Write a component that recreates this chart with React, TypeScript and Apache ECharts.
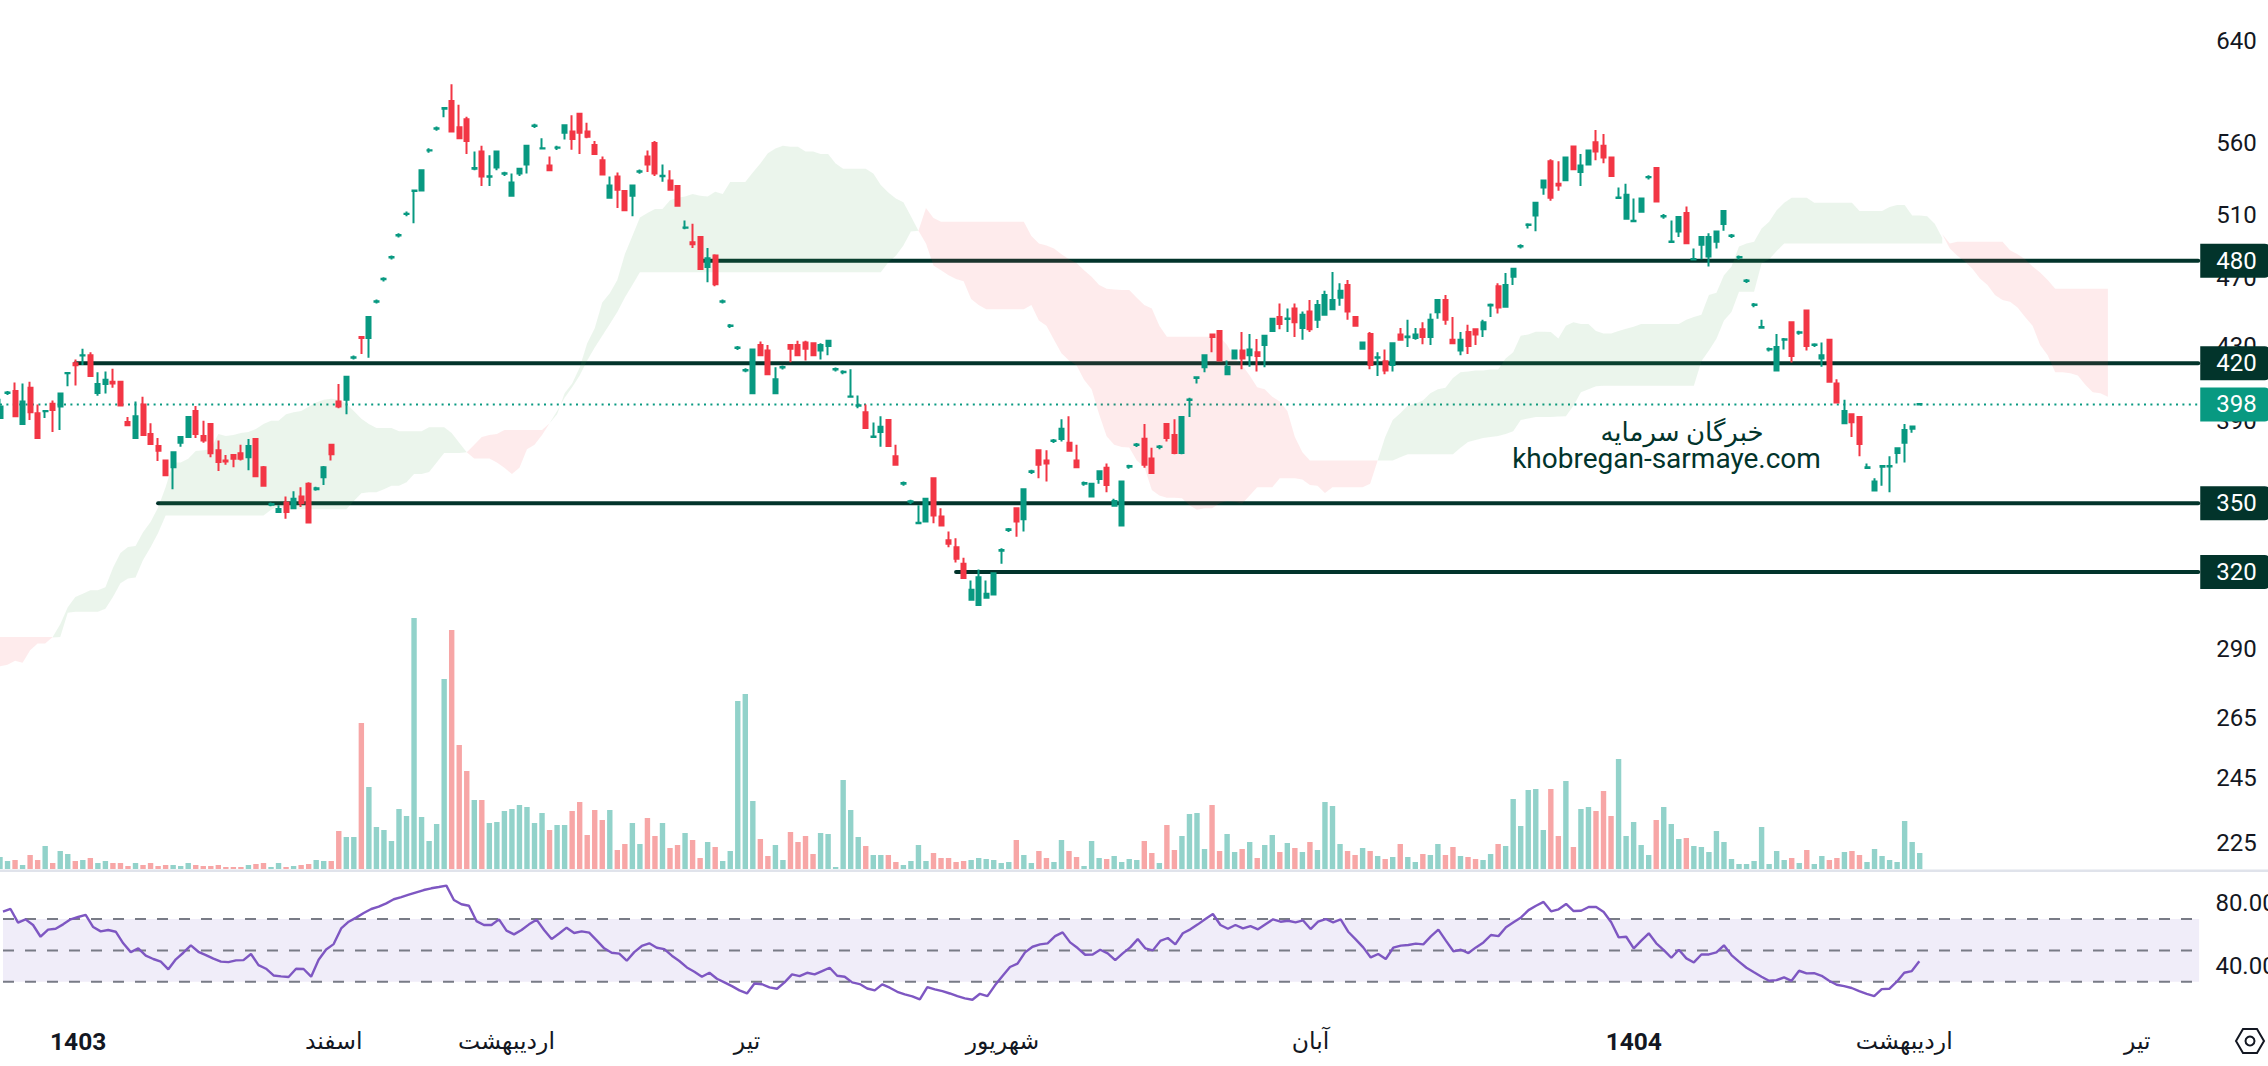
import React, { useEffect, useRef } from "react";
import * as echarts from "echarts";

const UP = "#089981";
const DOWN = "#f23645";
const DARK = "#02342b";
const TEXT = "#131722";

const slotCount = 302;
const monthLabels: [number, string][] = [
  [10, "1403"], [44, "اسفند"], [67, "اردیبهشت"], [99, "تیر"], [133, "شهریور"],
  [174, "آبان"], [217, "1404"], [253, "اردیبهشت"], [284, "تیر"],
];
const boldLabels = ["1403", "1404"];
const priceTicks = [640, 560, 510, 470, 430, 390, 290, 265, 245, 225];
const rsiTicks = [80, 40];
const levels: [number, number][] = [[480, 93], [420, 10], [350, 21], [320, 127]];
const currentPrice = 398;
const rsiGuides = [70, 50, 30];

// open, close, low, high
const candles: number[][] = [
  [391,397,391,401],[404,404.3,403,405],[405,392,392,409.5],[388,399.5,388,409],[406.7,394,390,410],
  [393.5,381,381,398],[394.5,394.6,391,395],[398.4,395.2,384,400],[397,403.7,385,403.7],[414.5,414.6,407.5,415],
  [420,418.8,408,422],[424.2,424.3,419,428],[424.3,413,413,426],[404,408.8,402.5,415],[408.8,411,403.7,415.5],
  [410,409,406.7,417],[410,397.5,397,410],[389,387.4,387.4,391.5],[381,392,381,399.5],[398,382.5,382.5,402],
  [383,378,378,388.4],[377,374.7,369.8,381],[370,363,363,370.5],[366.8,374,356.4,374],[378.6,381.5,376.7,381.5],
  [381.5,391.6,381.5,391.6],[394.6,383,381,397.2],[382,379.7,378.6,389.7],[388,373.5,371.6,388.5],[375,369.3,365,379.7],
  [370,369.5,368,372.7],[372.6,370.8,366.8,372.6],[373.5,370.8,370,377.6],[371.6,377,365.3,380.5],[380.5,362.5,362.5,380.5],
  [366.8,358,358,367.3],[349.3,349.6,348.6,350.3],[346,347.3,346,349],[350.3,346,343,353],[347.7,352,347.2,355.5],
  [353,350,348.3,357.3],[359,341.3,341.3,359.6],[356.4,356.8,355.7,357.6],[362,366.8,358.4,367.3],[377.6,373,370,377.6],
  [399.5,397,396,408.8],[400.5,412.7,393,412.7],[423,423.3,422,424.2],[434.6,434,425,434.6],[434,446,423,446],
  [455,455.3,454,456.3],[468.5,468.8,467.2,469.8],[482,482.3,480.7,483.3],[496,496.3,494.7,497.5],[510,510.3,508.6,511.7],
  [525.5,526,504,526],[526,540,526,540],[554,554.3,552.5,555.7],[570,570.3,568.5,571.7],[585,585.5,578.6,586],
  [591,568,568,604],[571,563,563,588],[577,561,551.5,579],[541,541.5,540,553.3],[553.3,535.6,529,557.5],
  [535.4,535.7,529,550.7],[542,553.3,540,553.3],[537.5,537.8,536,539],[522.4,531.5,521.8,537.7],[537.7,541,536,541],
  [544,557.5,537.7,557.5],[572,572.3,570.5,573.7],[555.5,555.7,555,563],[543.3,540,540,549.7],[556,556.3,554.5,557.5],
  [567,572.5,562,572.5],[568,562.4,554.6,580],[581.2,567,551.5,581.2],[568,564,563,574.4],[558,551.5,551.5,561],
  [547,537,537,549.7],[521,529.3,521,535.6],[535.6,526.4,514,538.4],[525.5,512.6,512.6,525.5],[522.4,529.3,508.5,529.3],
  [539,539.3,537.5,540.5],[549.7,544,538.8,554],[559.4,537.7,536,561],[535.8,536.2,532,544],[532.8,526.4,526.4,540],
  [529,515.6,515.6,529],[501,501.2,500,505.7],[491.7,490.3,488,503.6],[495,474.8,474.8,495],[476,481.5,466.7,488],
  [483.3,465.5,464.3,484],[455,455.3,454,456.3],[440.8,441.1,439.7,442],[428.4,428.7,427.3,429.5],[416,416.3,415,417.2],
  [403.8,427.5,403.8,427.5],[430,424.3,424.3,432],[427,414,414,430],[403.8,411.3,403.8,417.8],[417.6,417.9,416.5,418.7],
  [430,428,420.5,430],[430,424.3,424.3,432.5],[431.5,428,421.5,432.5],[431,424.3,424.3,431.5],[427,430,422,431],
  [429.5,432.5,424.3,432.5],[416.5,416.8,415.4,417.6],[415,415.3,414,416.1],[402,402.2,401.5,416.7],[397.4,397.6,396,402.7],
  [394,386,386,398],[381.5,381.7,381,388.8],[384,386.6,376.7,392],[390,377,377,390],[372,368,368,377.6],
  [359,359.3,358,360],[350.6,350.9,349.6,351.6],[341,341.2,340.5,349],[341.7,352,341.7,352],[361.5,344.4,341,361.5],
  [344,340,340,347.7],[333.5,332,330.5,337.3],[330.5,325.5,324,334.4],[323.4,317.5,317.5,326],[308.6,312.7,308.6,316.5],
  [306.5,317.8,306.5,321],[309.4,311,309.4,316.5],[310.7,319.5,310.7,319.5],[329,329.3,323.4,330],[338,338.3,337.1,338.9],
  [347.7,341.7,335,347.7],[342.7,356.4,337.3,356.4],[364.5,364.8,363.5,365.5],[375,368,361.5,375],[370,368.5,360,375],
  [379.5,379.8,378.5,380.5],[380.5,385.6,379.2,390.4],[378.6,374.7,374.7,392],[370,366.8,366.8,377.6],[359,359.3,358,360],
  [353,359,353,359],[361.2,364.8,359,364.8],[366.5,358.4,355,368.6],[348.8,351,348.8,352],[340,360,340,360],
  [367,367.3,366,368],[377.5,377.8,376.5,378.5],[380.6,368,366.5,388],[371,364,364,376.2],[376.5,376.8,375.5,377.5],
  [388,381,379.2,388],[382.5,373.6,373,390.4],[373.6,391.5,373,391.5],[400.3,400.6,391.5,401.5],[412,412.3,409,412.7],
  [417.8,424.3,415,424.3],[436,434.6,426,436],[438,421.5,421.5,438],[414,418,414,421.5],[422.5,427,422.5,427],
  [427,422.5,416.7,437.4],[424.3,427.5,418,436.2],[426,424,415.5,433.4],[430,435.3,417.8,435.3],[438,445,438,445],
  [446,442,439,454],[444.8,445.2,437.4,451],[451,443,434.6,454],[439.7,447.4,433,449.3],[449.3,439,437.4,456],
  [444.4,453,439.7,456],[447.4,459,447.4,461.6],[450.5,456,450.5,473],[457.3,461.6,452.6,466],[465,449.3,444.4,468],
  [446,441,441,446],[428,431.5,428,431.5],[436.2,419,416.7,437.4],[423,423.2,413,426],[421,416,414,427.5],
  [419,431,415.5,431],[436,433,433,439.7],[434.4,434.8,429,444.4],[434,436,433,439.7],[439,434.6,430.5,443],
  [434.6,444.4,430,448],[448.8,456,445,456],[456,444.4,441.6,459],[433,431,431,446],[427,433,424.3,437.4],
  [437.4,429.5,425,441.6],[439,436,430,439],[439,443,434.6,444.4],[452.8,453.2,446,454],[464.3,451.6,448,466],
  [452,465,452,472.4],[470,475,465,475],[489,489.3,487.7,490.3],[502.8,503.2,500.5,504],[509,517.6,498.8,517.6],
  [528,532.8,523,532.8],[546.3,521,519,547.7],[530.6,529.3,525.7,546.3],[533,549,533,549],[557,540.6,540.6,557],
  [538.8,543.3,529,551.5],[544,554,544,554],[560,553.3,547,569],[557.5,549,545,566],[549,536,536,549.7],
  [520.8,521.2,520.3,528],[507,523,507,530.6],[505.3,505.6,505,520.5],[511.5,520.5,511.5,520.5],[535,535.3,533.6,536.5],
  [541.6,518.5,518.5,542],[508.4,508.7,507,510],[491.8,492.2,491.5,505.7],[498.5,508,495,508],[510.7,491,491,515],
  [480.7,481,480.5,487.6],[490,495,480.8,495],[482.6,495,476.4,497.4],[492,498.6,487.6,498.6],[503.5,512,499,512],
  [495.7,496,494.4,497],[482,482.3,480.7,483.3],[467.5,467.8,466.3,468.7],[453,453.3,451.8,454.2],[439.8,440.2,439.5,444.4],
  [427.5,427.8,426.4,428.6],[416,429,415.5,436.2],[433,433.3,427.5,434],[443,424,420.4,443],[437,437.3,435.9,438.1],
  [449.8,429.5,427,449.8],[430,430.3,428.9,431.1],[422.5,424.3,418,431.5],[433,410,410,433.4],[409,399,399,411.3],
  [388.4,394.6,388.4,400.5],[393,388.9,381.5,393],[391.5,378,372,391.5],[366.4,366.7,366,368.6],[355.8,360,355.8,361.5],
  [367,367.3,358,367.5],[367.1,367.4,355,372],[373.6,376,368.6,376],[378.6,385,369,388],[385.6,386.7,383.6,386.7],
  [398,398.2,397.5,398.8],
];

const volumes = [
  12,8,9,4,14,9,23,6,18,15,8,9,11,6,8,6,6,3,6,4,6,3,4,4,3,6,4,3,3,4,2,2,2,4,5,6,2,6,2,3,4,5,9,8,8,
  38,32,32,146,82,42,39,28,60,53,251,52,28,45,190,239,124,98,69,69,46,47,58,60,64,62,46,56,39,44,44,58,67,34,59,49,59,19,25,46,25,51,33,46,21,24,36,29,11,27,22,8,18,168,175,68,30,
  13,24,9,37,27,33,15,36,35,2,89,59,32,23,14,14,14,7,4,8,24,8,16,11,11,7,8,9,11,10,9,6,7,29,14,6,18,11,7,29,18,12,3,28,11,10,13,7,10,9,28,16,6,44,19,33,55,56,20,64,18,35,17,20,27,11,24,34,17,26,21,17,27,19,67,63,25,18,14,21,18,13,10,12,25,12,7,15,14,25,14,22,13,12,10,9,15,25,
  23,70,43,79,80,39,80,33,88,22,60,62,58,78,53,110,33,47,24,14,49,62,45,30,31,23,22,17,38,27,10,5,5,8,42,5,18,9,11,6,19,5,13,9,11,17,18,14,7,20,13,9,7,48,27,16,
];

const rsi = [
  74.7,76.4,67.7,69.8,66.2,58.7,63.2,63.8,66.6,69.8,71.3,72.6,64.9,62.1,63,61.9,54.5,48.9,51.3,46.6,
  44.5,42.8,37.9,44.3,48.5,53.2,49.1,47,44.7,42.8,42.5,43.6,43.8,47.7,40.6,38.3,34,33.4,33,38.3,
  38.1,33.2,44,50.6,54,64,68.3,70.9,73.8,76.4,77.9,80,82.6,84,85.5,87,88.5,89.6,90.4,91.3,
  82.1,79.4,78.5,68.7,66.2,66.2,69.8,62.6,60.2,63,66.6,69.6,63,57.2,60.8,64.5,61.1,62.1,61.3,56.4,
  51.3,48.5,47.9,43.4,48.9,52.8,54.5,51.7,50.8,46.6,43.2,39.1,36.4,33.2,35.7,31.9,29.6,27.2,24.5,22.5,
  28.9,28.4,26.4,25.5,29.6,34.7,33.6,35.7,34.7,36.8,38.9,33.8,33.2,29.6,28.5,25.7,24.5,28.3,26.2,23.6,
  21.9,20.6,18.7,26.6,25.1,24,22.5,20.8,19.4,18.5,22.3,20.8,27.7,33.6,39.4,41.5,48.7,52.3,53.8,54.5,
  59.1,61.5,55.1,51.5,47.2,47.4,50.4,48.1,43.8,48.1,51.9,57.2,51.3,50,56,57.9,53.8,60.9,63.4,66.6,
  70,73.2,66.2,63.8,66.2,64,65.5,63.4,66.6,69.8,68.3,68.9,67.9,69.1,63.6,68.3,70,67.9,69.8,61.9,
  57,51.9,45.5,47.7,44.5,51.7,53,53.4,54.3,53.8,58.9,63.2,56.2,49.4,50.4,48.3,51.9,55.1,59.8,59.1,
  64.7,67.9,71,75.7,78.5,80.9,74.9,76.2,79.6,75.1,75.3,77.7,77.7,74.5,67.9,58.3,58.7,51.3,56.2,60.9,
  54.5,50.2,45.3,50.4,44.9,42.3,47.4,47.4,48.7,53.2,47,42.8,38.9,36,33.2,30.6,31,32.8,30.6,37,
  35.3,35.5,33.8,30.6,28.1,27.2,26,24,22.3,20.8,25.3,25.5,30,35.7,36.8,43,
];

// Ichimoku cloud edges: each piece starts at a bar index and lists upper and lower span values.
const redCloudAStart = 0;
const redCloudAUpper = [294,294,294,294,294,294,294,294];
const redCloudALower = [283,283.6,285,284.3,289,291.5,291.5,294];

const greenCloudAStart = 7;
const greenCloudAUpper = [294,298.9,305.6,309.7,311,312.5,312.5,313.7,321.6,328,330.6,331,337,341.5,348,357.3,369,369,370.8,374.6,375,375.5,383,382,382.5,383.5,384,385.5,388,389.7,389.7,393,394,394.6,396.8,399,400.5,401,400.5,398.4,394.6,390.7,388,386,386,386,384.4,384.4,384.4,384.4,386.4,386.4,386.4,383.5,378.6,374];
const greenCloudALower = [293.8,294,303.4,303.8,303.8,303.8,303.8,305,309.7,315.3,317.3,317.7,325,330.5,336.7,344.4,344.4,344.4,344.4,344.4,344.4,344.4,344.4,344.4,344.4,344.4,344.4,344.4,344.4,347,348.7,347.2,347.2,347.2,347.2,347.2,347.2,347.2,347.2,347.2,351,354.5,355,355,356.4,358,358,359.6,363.5,363.5,364.5,369,373.6,373.6,373.6,374];

const redCloudBStart = 62;
const redCloudBUpper = [374,377.6,381.5,382.5,383,385,385,385,385,385,385,388.4];
const redCloudBLower = [374,371,371,371,369,366.5,363.5,366.5,375.5,377.6,382.5,388.4];

const greenCloudBStart = 73;
const greenCloudBUpper = [388.4,393,403.8,409,417.7,431,439.6,454.5,460,468,484,495.7,507.7,510.7,513.4,513.4,519.3,521,521.8,523.5,522.4,521.8,525,523.5,531.7,531.7,531.7,538.4,544.7,552,555.5,557.5,556.8,556.8,553.3,553.3,551.5,551.5,544.7,541,541,541,541,537.7,529.7,524.5,520.5,518,508.5,499];
const greenCloudBLower = [388.4,394.6,401.5,407,413.3,421.5,428.7,435.3,442,449,457.5,465,472.8,472.8,472.8,472.8,472.8,472.8,472.8,472.8,472.8,472.8,472.8,472.8,472.8,472.8,472.8,472.8,472.8,472.8,472.8,472.8,472.8,472.8,472.8,472.8,472.8,472.8,472.8,472.8,472.8,472.8,472.8,472.8,472.8,479,483,489.5,498.6,499];

const redCloudCStart = 122;
const redCloudCUpper = [499,514,507.5,505,505,505,505,505,505,505,505,505,505,505,505,495.7,490.8,489.6,487.6,484,480.8,478.6,474,470,465,462.7,462.3,462,462,457.3,453,451,441,434.7,434.7,434.7,434.7,434.7,434.7,434.7,434.7,430,422.5,418.8,413.3,407,406,402,399.5,394.6,381.5,374,370,370,370,370,370,370,370,370,370,370];
const redCloudCLower = [499,490.8,477,474,471,468.6,467.3,456.6,453,450.6,450.6,450.6,450.6,450.6,450.6,453,444,441,433,425.4,421.5,418.8,411,406,393,381.8,377.6,376.6,376.3,370,367,356,353.5,352.5,352.5,352.2,349,347,347.7,347.7,350,351,350.6,349.8,353.5,357.3,357.3,357.3,361.5,361.5,361.5,361,358.4,358,354.6,357.3,357.3,357.3,357.3,357.3,359,370];

const greenCloudCStart = 183;
const greenCloudCUpper = [370,381.5,390,393.5,397.3,398.4,400,403.8,406,406.8,412,415,415.5,416,416,416.5,416.5,422.5,426,435.3,436,437.6,437.6,437.4,433.7,441,443,442,442,438,436.5,436.5,438,439.2,440.4,442,442,442,442,442,442,444.4,446,447.4,459,460.3,471,476.4,489,490.8,492,500.6,505,512.6,517.6,521,521,521,517.6,517.6,517.6,517.6,517.6,517.6,512,512,512,512,514.8,516,516,509,509,508.5,503.6,494.4];
const greenCloudCLower = [370,370,370,371.6,373,373,373,373,373,373,373,376.2,379,380,381,381.5,382,383,384.4,390,390.8,391.5,391.5,391.5,391.8,392,397.3,404.4,406,407.5,407.8,407.8,407.8,407.8,407.8,407.8,407.8,407.8,407.8,407.8,407.8,407.8,407.8,421,427,433.6,444,449,461,461,461,478.3,480.8,486,490.8,490.8,490.8,490.8,490.8,490.8,490.8,490.8,490.8,490.8,490.8,490.8,490.8,490.8,490.8,490.8,490.8,490.8,490.8,490.8,490.8,490.8];

const redCloudDStart = 258;
const redCloudDUpper = [496.8,490.8,492,492,492,492,492,492,492,486.6,484,480.8,476.4,472.7,468,462.7,462.7,462.7,462.7,462.7,462.7,462.7,462.7];
const redCloudDLower = [496.8,487.6,483,479.5,475,469,465,459,456,455,451.6,446,441,430,424.3,415,415,414.5,413.3,408.3,404.4,403.8,402];

const RED_FILL = "rgba(242,54,69,0.1)";
const GREEN_FILL = "rgba(76,160,80,0.11)";

function cloudSeries(start: number, upper: number[], lower: number[], color: string) {
  const points: number[][] = [];
  upper.forEach((v, k) => points.push([start + k, v]));
  for (let k = lower.length - 1; k >= 0; k--) points.push([start + k, lower[k]]);
  return {
    type: "custom",
    xAxisIndex: 0,
    yAxisIndex: 0,
    z: 3,
    silent: true,
    clip: true,
    encode: { x: 0, y: 1 },
    data: points,
    renderItem: (params: any, api: any) => {
      if (params.dataIndex !== 0) return null;
      return {
        type: "polygon",
        shape: { points: points.map((p) => api.coord(p)) },
        style: { fill: color, stroke: "none" },
      };
    },
  };
}

const FONT = 'Roboto, "DejaVu Sans", sans-serif';
const PANE_RIGHT = 2200;
const grids = [
  { left: 0, top: 0.5, width: 2266, height: 870 },
  { left: 0, top: 569, width: 2266, height: 300 },
  { left: 0, top: 872, width: 2266, height: 156.75 },
];

export default function App() {
  const ref = useRef<HTMLDivElement>(null);
  useEffect(() => {
    document.body.style.margin = "0";
    document.body.style.background = "#fff";
    const chart = echarts.init(ref.current!, undefined, { renderer: "svg" });
    const categories = Array.from({ length: slotCount }, () => "");
    monthLabels.forEach(([i, t]) => (categories[i] = t));
    const bareX = (gridIndex: number) => ({
      type: "category",
      gridIndex,
      data: categories,
      boundaryGap: false,
      axisLine: { show: false },
      axisTick: { show: false },
      axisLabel: { show: false },
      splitLine: { show: false },
    });
    const tagSeries = (value: number, bg: string) => ({
      type: "scatter",
      xAxisIndex: 0,
      yAxisIndex: 0,
      z: 20,
      silent: true,
      symbolSize: 0,
      itemStyle: { opacity: 1 },
      data: [[292, value]],
      label: {
        show: true,
        position: "right",
        distance: 2,
        formatter: String(value),
        color: "#fff",
        opacity: 1,
        fontFamily: FONT,
        fontSize: 24,
        backgroundColor: bg,
        padding: [5, 14, 5, 16],
        lineHeight: 24,
        borderRadius: [0, 6, 6, 0],
      },
    });
    chart.setOption({
      animation: false,
      backgroundColor: "#fff",
      grid: grids,
      xAxis: [
        bareX(0),
        bareX(1),
        {
          ...bareX(2),
          axisLabel: {
            show: true,
            interval: 0,
            margin: 0,
            hideOverlap: false,
            color: TEXT,
            fontFamily: FONT,
            fontSize: 23.5,
            formatter: (v: string) => (boldLabels.includes(v) ? `{b|${v}}` : v),
            rich: { b: { fontWeight: "bold", fontSize: 24.5, color: TEXT, fontFamily: FONT } },
          },
        },
        { type: "value", gridIndex: 2, min: 0, max: 2266, show: false, splitLine: { show: false } },
      ],
      yAxis: [
        { type: "log", gridIndex: 0, min: 216.9, max: 673.6, show: false, splitLine: { show: false } },
        { type: "value", gridIndex: 1, min: 0, max: 300, show: false, splitLine: { show: false } },
        { type: "value", gridIndex: 2, min: 0, max: 100, show: false, splitLine: { show: false } },
      ],
      series: [
        ...levels.map(([price, start]) => ({
          type: "line",
          xAxisIndex: 0,
          yAxisIndex: 0,
          z: 2,
          silent: true,
          symbol: "none",
          data: [[start, price], [292, price]],
          lineStyle: { color: DARK, width: 4, cap: "round" },
        })),
        {
          type: "line",
          xAxisIndex: 0,
          yAxisIndex: 0,
          z: 2,
          silent: true,
          symbol: "none",
          data: [[0, currentPrice], [292, currentPrice]],
          lineStyle: { color: UP, width: 2, type: [2, 4.4] },
        },
        cloudSeries(redCloudAStart, redCloudAUpper, redCloudALower, RED_FILL),
        cloudSeries(greenCloudAStart, greenCloudAUpper, greenCloudALower, GREEN_FILL),
        cloudSeries(redCloudBStart, redCloudBUpper, redCloudBLower, RED_FILL),
        cloudSeries(greenCloudBStart, greenCloudBUpper, greenCloudBLower, GREEN_FILL),
        cloudSeries(redCloudCStart, redCloudCUpper, redCloudCLower, RED_FILL),
        cloudSeries(greenCloudCStart, greenCloudCUpper, greenCloudCLower, GREEN_FILL),
        cloudSeries(redCloudDStart, redCloudDUpper, redCloudDLower, RED_FILL),
        {
          type: "bar",
          xAxisIndex: 1,
          yAxisIndex: 1,
          z: 1,
          silent: true,
          barWidth: 5.4,
          data: volumes.map((v, i) => ({
            value: v,
            itemStyle: { color: candles[i][1] >= candles[i][0] ? "#92d2ca" : "#f7a6a6" },
          })),
        },
        {
          type: "candlestick",
          xAxisIndex: 0,
          yAxisIndex: 0,
          z: 5,
          silent: true,
          barWidth: 4.5,
          data: candles,
          itemStyle: { color: UP, color0: DOWN, borderColor: UP, borderColor0: DOWN, borderWidth: 2 },
        },
        ...rsiGuides.map((g, k) => ({
          type: "line",
          xAxisIndex: 3,
          yAxisIndex: 2,
          z: 2,
          silent: true,
          symbol: "none",
          data: [[0, g], [PANE_RIGHT, g]],
          lineStyle: { color: "#787b86", width: 2, type: [11, 11] },
          ...(k === 0
            ? {
                markArea: {
                  silent: true,
                  itemStyle: { color: "#f0edf9" },
                  data: [[{ xAxis: 0, yAxis: 30 }, { xAxis: PANE_RIGHT, yAxis: 70 }]],
                },
              }
            : {}),
        })),
        {
          type: "line",
          xAxisIndex: 2,
          yAxisIndex: 2,
          z: 4,
          silent: true,
          symbol: "none",
          data: rsi.map((v, i) => [i, v]),
          lineStyle: { color: "#7e57c2", width: 2.4 },
        },
        {
          type: "scatter",
          xAxisIndex: 0,
          yAxisIndex: 0,
          z: 10,
          silent: true,
          symbolSize: 0,
          itemStyle: { opacity: 1 },
          data: priceTicks.map((t) => [294, t]),
          label: {
            show: true,
            position: "right",
            distance: 3,
            offset: [0, 1],
            formatter: (p: any) => String(p.value[1]),
            color: TEXT,
            opacity: 1,
            fontFamily: FONT,
            fontSize: 24,
          },
        },
        {
          type: "scatter",
          xAxisIndex: 2,
          yAxisIndex: 2,
          z: 10,
          silent: true,
          symbolSize: 0,
          itemStyle: { opacity: 1 },
          data: rsiTicks.map((t) => [294, t]),
          label: {
            show: true,
            position: "right",
            distance: 3,
            formatter: (p: any) => p.value[1].toFixed(2),
            color: TEXT,
            opacity: 1,
            fontFamily: FONT,
            fontSize: 24,
          },
        },
        tagSeries(480, DARK),
        tagSeries(420, DARK),
        tagSeries(350, DARK),
        tagSeries(320, DARK),
        tagSeries(currentPrice, UP),
      ],
      graphic: [
        { type: "rect", silent: true, z: 30, shape: { x: 0, y: 869.5, width: 2268, height: 2.5 }, style: { fill: "#e0e3eb" } },
        {
          type: "text", silent: true, z: 30, x: 1682, y: 432,
          style: { text: "خبرگان سرمایه", fill: DARK, font: `26px ${FONT}`, align: "center", verticalAlign: "middle" },
        },
        {
          type: "text", silent: true, z: 30, x: 1666.5, y: 458,
          style: { text: "khobregan-sarmaye.com", fill: DARK, font: `28px ${FONT}`, align: "center", verticalAlign: "middle" },
        },
        {
          type: "polygon", silent: true, z: 30,
          shape: { points: [[2236, 1041], [2243, 1029], [2257, 1029], [2264, 1041], [2257, 1053], [2243, 1053]] },
          style: { fill: "none", stroke: TEXT, lineWidth: 2 },
        },
        {
          type: "circle", silent: true, z: 30,
          shape: { cx: 2250, cy: 1041, r: 4.5 },
          style: { fill: "none", stroke: TEXT, lineWidth: 2 },
        },
      ],
    });
    return () => chart.dispose();
  }, []);
  return <div ref={ref} style={{ position: "fixed", left: 0, top: 0, width: 2268, height: 1066 }} />;
}
